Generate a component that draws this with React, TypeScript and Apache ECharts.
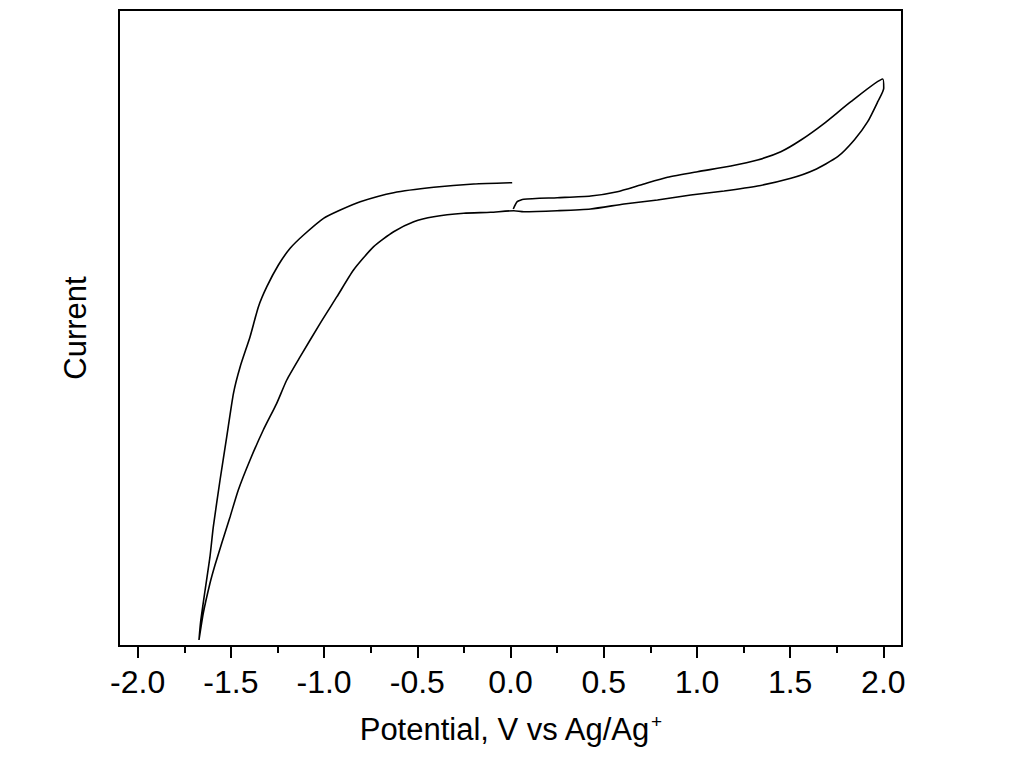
import React, { useEffect, useRef } from "react";
import * as echarts from "echarts";

// Cyclic voltammogram, potential in V vs Ag/Ag+, current in arbitrary units
const potential = [
  0.015, 0.036, 0.071, 0.251, 0.43, 0.573, 0.698, 0.842, 1.003, 1.182, 1.325, 1.45, 1.558, 1.683, 1.826, 1.997,
  2.002, 1.97, 1.916, 1.844, 1.755, 1.629, 1.504, 1.325, 1.146, 0.967, 0.788, 0.609, 0.43, 0.251, 0.071, 0.018,
  -0.107, -0.251, -0.412, -0.519, -0.627, -0.734, -0.842, -0.931, -1.021, -1.128, -1.2, -1.254, -1.326, -1.397,
  -1.46, -1.504, -1.549, -1.585, -1.612, -1.648, -1.671,
  -1.662, -1.638, -1.612, -1.594, -1.558, -1.522, -1.486, -1.45, -1.397, -1.352, -1.307, -1.245, -1.182, -1.11,
  -1.003, -0.913, -0.806, -0.627, -0.412, -0.197, 0.009,
];
const current = [
  437, 444.3, 446.7, 448.3, 450, 454.3, 461, 468.7, 474.3, 480, 486, 494.3, 506, 522.7, 544.3, 567,
  557.7, 544.3, 524.3, 506, 489.3, 476, 467.7, 460, 455, 451, 446, 442, 437, 435.3, 434.3, 435.3,
  433.7, 432.7, 429.3, 424.3, 414.3, 399.3, 376, 349.3, 322.7, 289.3, 266, 242.7, 216, 186,
  156, 129.3, 102.7, 81, 62.7, 32.7, 6,
  24.3, 56, 89.3, 119.3, 166, 209.3, 252.7, 279.3, 309.3, 339.3, 359.3, 381, 397.7, 411,
  427.7, 436, 444.3, 453.3, 458.7, 462, 463.3,
];
const majorTicks = [-2.0, -1.5, -1.0, -0.5, 0.0, 0.5, 1.0, 1.5, 2.0];
const minorTicks = [-1.75, -1.25, -0.75, -0.25, 0.25, 0.75, 1.25, 1.75];

const FONT = "Liberation Sans, Arial, sans-serif";

export default function App() {
  const ref = useRef<HTMLDivElement>(null);
  useEffect(() => {
    if (!ref.current) return;
    const chart = echarts.init(ref.current, null, { renderer: "svg" });
    const data = potential.map((v, i) => [v, current[i]]);
    chart.setOption({
      animation: false,
      backgroundColor: "#fff",
      grid: {
        left: 119,
        right: 113,
        top: 10,
        bottom: 111,
        show: true,
        borderColor: "#000",
        borderWidth: 2,
        containLabel: false,
      },
      xAxis: [
        {
          type: "value",
          min: -2.1,
          max: 2.1,
          position: "bottom",
          axisLine: { show: true, onZero: false, lineStyle: { color: "#000", width: 2 } },
          axisTick: {
            show: true,
            inside: false,
            length: 12,
            customValues: majorTicks,
            lineStyle: { color: "#000", width: 2 },
          },
          axisLabel: {
            show: true,
            customValues: majorTicks,
            margin: 20,
            color: "#000",
            fontSize: 32,
            fontFamily: FONT,
            formatter: (v: number) => v.toFixed(1),
          },
          splitLine: { show: false },
          name: "Potential, V vs Ag/Ag{sup|+}",
          nameLocation: "middle",
          nameGap: 66,
          nameTextStyle: {
            color: "#000",
            fontSize: 31,
            fontFamily: FONT,
            rich: {
              sup: { fontSize: 19, fontFamily: FONT, color: "#000", padding: [0, 0, 16, 1] },
            },
          },
        },
        {
          type: "value",
          min: -2.1,
          max: 2.1,
          position: "bottom",
          axisLine: { show: false, onZero: false },
          axisTick: {
            show: true,
            inside: false,
            length: 7,
            customValues: minorTicks,
            lineStyle: { color: "#000", width: 2 },
          },
          axisLabel: { show: false },
          splitLine: { show: false },
        },
      ],
      yAxis: {
        type: "value",
        min: 0,
        max: 636,
        axisLine: { show: true, onZero: false, lineStyle: { color: "#000", width: 2 } },
        axisTick: { show: false },
        axisLabel: { show: false },
        splitLine: { show: false },
        name: "Current",
        nameLocation: "middle",
        nameGap: 28,
        nameTextStyle: { color: "#000", fontSize: 31, fontFamily: FONT },
      },
      series: [
        {
          type: "line",
          xAxisIndex: 0,
          data,
          showSymbol: false,
          symbol: "none",
          lineStyle: { color: "#000", width: 1.6 },
          smooth: 0.2,
        },
      ],
    });
    return () => chart.dispose();
  }, []);
  return (
    <div
      ref={ref}
      style={{ position: "fixed", left: 0, top: 0, width: 1015, height: 757, background: "#fff" }}
    />
  );
}
